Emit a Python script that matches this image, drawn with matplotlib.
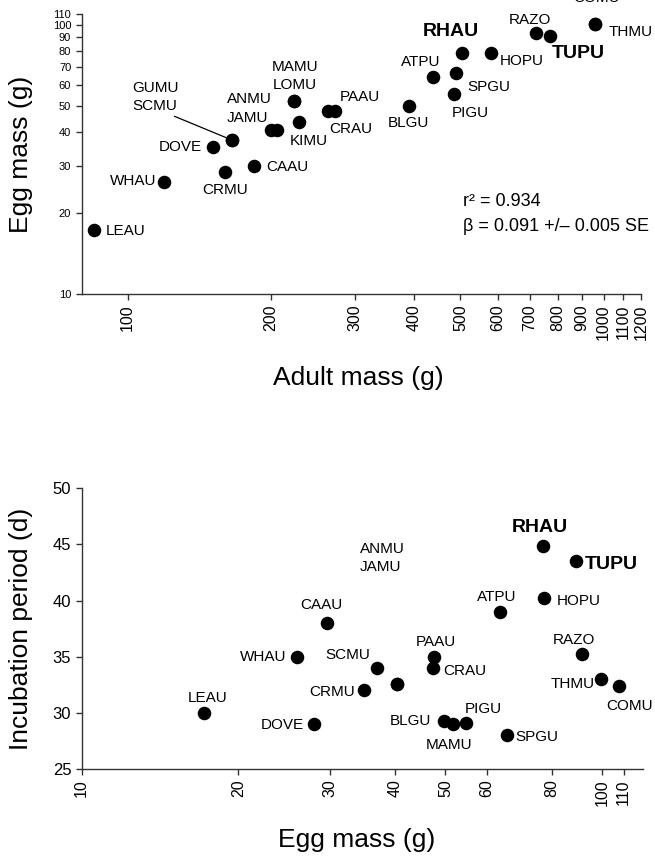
import matplotlib
matplotlib.use('Agg')
import matplotlib.pyplot as plt

plt.rcParams['font.family'] = ['Liberation Sans', 'DejaVu Sans']

# --- top panel: egg mass vs adult mass (log-log) ---
top_species = ['LEAU', 'WHAU', 'DOVE', 'GUMU', 'SCMU', 'CRMU', 'CAAU', 'ANMU', 'JAMU',
               'MAMU', 'LOMU', 'KIMU', 'PAAU', 'CRAU', 'BLGU', 'ATPU', 'SPGU', 'PIGU',
               'RHAU', 'HOPU', 'RAZO', 'TUPU', 'COMU', 'THMU']
adult_mass = [85, 119, 151, 166, 166, 160, 184, 200, 206,
              223, 223, 229, 264, 273, 389, 438, 489, 485,
              505, 579, 720, 772, 960, 960]
egg_mass_top = [17.3, 26.1, 35.2, 37.3, 37.3, 28.4, 29.9, 40.7, 40.7,
                52.4, 52.4, 43.5, 47.9, 47.9, 50.0, 64.3, 66.5, 55.3,
                78.6, 78.6, 93.2, 91.1, 100.7, 100.7]
top_xticks = [100, 200, 300, 400, 500, 600, 700, 800, 900, 1000, 1100, 1200]
top_yticks = [10, 20, 30, 40, 50, 60, 70, 80, 90, 100, 110]
r2 = 0.934
beta, beta_se = 0.091, 0.005

# --- bottom panel: incubation period vs egg mass ---
bot_species = ['LEAU', 'DOVE', 'WHAU', 'CAAU', 'CRMU', 'SCMU', 'ANMU', 'JAMU', 'PAAU',
               'CRAU', 'ATPU', 'RHAU', 'HOPU', 'TUPU', 'RAZO', 'THMU', 'COMU', 'BLGU',
               'MAMU', 'PIGU', 'SPGU']
egg_mass_bot = [17.2, 28.0, 25.9, 29.6, 34.9, 36.9, 40.3, 40.3, 47.6,
                47.3, 63.7, 77.1, 77.4, 89.0, 91.4, 99.4, 107.8, 49.7,
                51.8, 54.8, 65.6]
incubation = [30.0, 29.0, 35.0, 38.0, 32.0, 34.0, 32.6, 32.6, 35.0,
              34.0, 39.0, 44.9, 40.2, 43.5, 35.2, 33.0, 32.4, 29.3,
              29.0, 29.1, 28.0]
bot_xticks = [10, 20, 30, 40, 50, 60, 80, 100, 110]
bot_yticks = [25, 30, 35, 40, 45, 50]

bold = {'RHAU', 'TUPU'}

# label offsets in pixels (dx, dy up, horizontal alignment)
top_offsets = {
    'LEAU': (12, -1, 'left'), 'WHAU': (-7, 1, 'right'), 'DOVE': (-11, 0, 'right'),
    'GUMU': (-77, 52, 'center'), 'SCMU': (-78, 34, 'center'), 'CRMU': (0, -18, 'center'),
    'CAAU': (12, -1, 'left'), 'ANMU': (1, 31, 'right'), 'JAMU': (-9, 12, 'right'),
    'MAMU': (2, 34, 'center'), 'LOMU': (1, 16, 'center'), 'KIMU': (10, -19, 'center'),
    'PAAU': (11, 14, 'left'), 'CRAU': (-6, -18, 'left'), 'BLGU': (0, -17, 'center'),
    'ATPU': (-12, 15, 'center'), 'SPGU': (12, -14, 'left'), 'PIGU': (16, -19, 'center'),
    'RHAU': (-12, 22, 'center'), 'HOPU': (9, -8, 'left'), 'RAZO': (-6, 13, 'center'),
    'TUPU': (28, -17, 'center'), 'COMU': (1, 26, 'center'), 'THMU': (13, -8, 'left'),
}
bot_offsets = {
    'LEAU': (3, 15, 'center'), 'DOVE': (-11, -1, 'right'), 'WHAU': (-10, 0, 'right'),
    'CAAU': (-6, 18, 'center'), 'CRMU': (-9, -2, 'right'), 'SCMU': (-7, 13, 'right'),
    'ANMU': (-37, 135, 'left'), 'JAMU': (-37, 117, 'left'), 'PAAU': (2, 15, 'center'),
    'CRAU': (10, -3, 'left'), 'ATPU': (-3, 15, 'center'), 'RHAU': (-3, 18, 'center'),
    'HOPU': (13, -3, 'left'), 'TUPU': (9, -3, 'left'), 'RAZO': (-8, 14, 'center'),
    'THMU': (-6, -5, 'right'), 'COMU': (11, -20, 'center'), 'BLGU': (-13, 0, 'right'),
    'MAMU': (-4, -21, 'center'), 'PIGU': (17, 14, 'center'), 'SPGU': (9, -2, 'left'),
}

AXC = '#333333'


def style_axes(ax):
    for s in ['top', 'right']:
        ax.spines[s].set_visible(False)
    for s in ['left', 'bottom']:
        ax.spines[s].set_color(AXC)
        ax.spines[s].set_linewidth(1.0)
    ax.tick_params(which='major', direction='out', length=4.5, width=1.0, color=AXC, pad=3)
    ax.minorticks_off()


def put_labels(ax, names, xs, ys, offsets):
    for n, x, y in zip(names, xs, ys):
        dx, dy, ha = offsets[n]
        big = n in bold
        ax.annotate(n, (x, y), xytext=(dx, dy), textcoords='offset pixels',
                    ha=ha, va='center', fontsize=14 if big else 11,
                    fontweight='bold' if big else 'normal', annotation_clip=False)


fig = plt.figure(figsize=(6.55, 8.58), dpi=100)

# top panel
ax1 = fig.add_axes([0.1246, 0.6573, 0.8546, 0.3264])
ax1.scatter(adult_mass, egg_mass_top, s=95, color='black', linewidths=0, zorder=3)
ax1.set_xscale('log')
ax1.set_yscale('log')
ax1.set_xlim(80, 1200)
ax1.set_ylim(10, 110)
style_axes(ax1)
ax1.set_xticks(top_xticks)
ax1.set_xticklabels([str(v) for v in top_xticks], rotation=90, fontsize=11.5)
ax1.set_yticks(top_yticks)
ax1.set_yticklabels([str(v) for v in top_yticks], fontsize=8)
ax1.minorticks_off()
put_labels(ax1, top_species, adult_mass, egg_mass_top, top_offsets)
# leader line from the SCMU label to its point
i = top_species.index('SCMU')
ax1.annotate('', (adult_mass[i], egg_mass_top[i]), xytext=(-58, 24),
             textcoords='offset pixels',
             arrowprops=dict(arrowstyle='-', color='black', lw=0.9, shrinkA=0, shrinkB=5))
ax1.text(0.682, 0.33, f'r\u00b2 = {r2:.3f}', transform=ax1.transAxes,
         fontsize=13, va='center', ha='left')
ax1.text(0.682, 0.24, f'\u03b2 = {beta:.3f} +/\u2013 {beta_se:.3f} SE', transform=ax1.transAxes,
         fontsize=13, va='center', ha='left')

fig.text(0.032, 0.8205, 'Egg mass (g)', rotation=90, ha='center', va='center', fontsize=19)
fig.text(0.547, 0.5594, 'Adult mass (g)', ha='center', va='center', fontsize=19)

# bottom panel
ax2 = fig.add_axes([0.1247, 0.1037, 0.8574, 0.3272])
ax2.scatter(egg_mass_bot, incubation, s=95, color='black', linewidths=0, zorder=3)
ax2.set_xscale('log')
ax2.set_xlim(10, 120)
ax2.set_ylim(25, 50)
style_axes(ax2)
ax2.set_xticks(bot_xticks)
ax2.set_xticklabels([str(v) for v in bot_xticks], rotation=90, fontsize=11.5)
ax2.set_yticks(bot_yticks)
ax2.set_yticklabels([str(v) for v in bot_yticks], fontsize=12)
ax2.minorticks_off()
put_labels(ax2, bot_species, egg_mass_bot, incubation, bot_offsets)

fig.text(0.032, 0.2675, 'Incubation period (d)', rotation=90, ha='center', va='center', fontsize=19)
fig.text(0.545, 0.021, 'Egg mass (g)', ha='center', va='center', fontsize=19)

fig.savefig('out.png', dpi=100)
